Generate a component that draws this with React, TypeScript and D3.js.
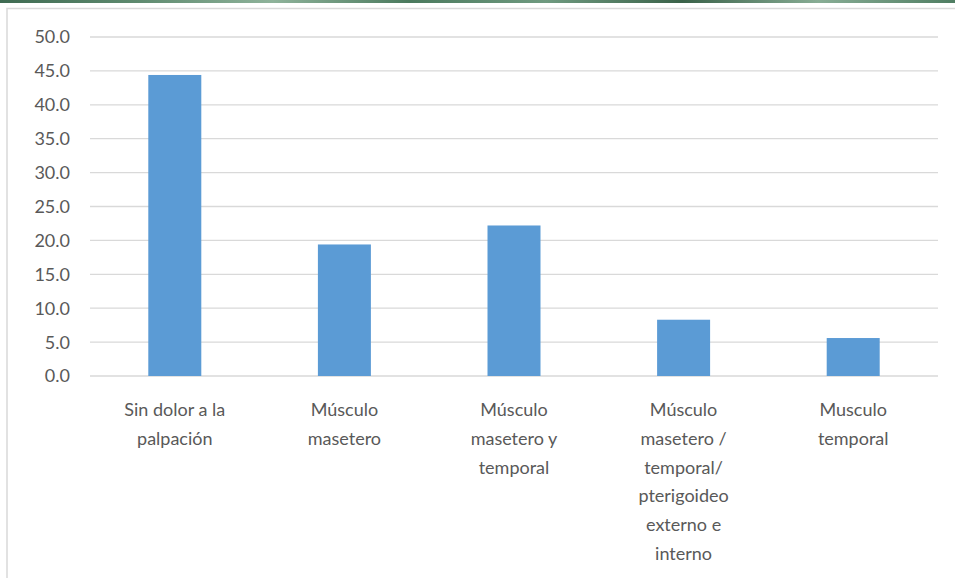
import { useEffect, useRef } from "react";
import * as d3 from "d3";

const categories = [
  ["Sin dolor a la", "palpación"],
  ["Músculo", "masetero"],
  ["Músculo", "masetero y", "temporal"],
  ["Músculo", "masetero /", "temporal/", "pterigoideo", "externo e", "interno"],
  ["Musculo", "temporal"],
];
const values = [44.4, 19.4, 22.2, 8.3, 5.6];
const yTicks = [0, 5, 10, 15, 20, 25, 30, 35, 40, 45, 50];
const stripColors = ["#3f6b52", "#5e8a6f", "#8fb39b", "#4b7a5e", "#6f9a80", "#3a6249", "#88ad95", "#4f7d62"];

const W = 955;
const H = 578;
const margin = { top: 37, right: 17, bottom: 202, left: 90 };
const FONT = "Lato, 'Open Sans', sans-serif";

export default function App() {
  const ref = useRef<HTMLDivElement | null>(null);

  useEffect(() => {
    if (!ref.current) return;
    d3.select(ref.current).selectAll("svg").remove();

    const svg = d3
      .select(ref.current)
      .append("svg")
      .attr("width", W)
      .attr("height", H)
      .style("display", "block");

    // green decorative strip along the top
    const grad = svg
      .append("defs")
      .append("linearGradient")
      .attr("id", "strip")
      .attr("x1", "0%")
      .attr("x2", "100%");
    stripColors.forEach((c, i) => {
      grad
        .append("stop")
        .attr("offset", `${(i / (stripColors.length - 1)) * 100}%`)
        .attr("stop-color", c);
    });
    svg.append("rect").attr("width", W).attr("height", H).attr("fill", "#fff");
    svg.append("rect").attr("width", W).attr("height", 3).attr("fill", "url(#strip)");

    // chart frame
    svg
      .append("path")
      .attr("d", `M7,${H} V8.5 H${W}`)
      .attr("fill", "none")
      .attr("stroke", "#d9d9d9")
      .attr("stroke-width", 1.5);

    const innerW = W - margin.left - margin.right;
    const innerH = H - margin.top - margin.bottom;
    const g = svg.append("g").attr("transform", `translate(${margin.left},${margin.top})`);

    const x = d3
      .scaleBand<number>()
      .domain(d3.range(categories.length))
      .range([0, innerW])
      .paddingInner(0.6875)
      .paddingOuter(0.34375);
    const y = d3.scaleLinear().domain([0, 50]).range([innerH, 0]);

    g.selectAll("line.grid")
      .data(yTicks)
      .join("line")
      .attr("class", "grid")
      .attr("x1", 0)
      .attr("x2", innerW)
      .attr("y1", (d) => y(d))
      .attr("y2", (d) => y(d))
      .attr("stroke", "#d9d9d9")
      .attr("stroke-width", 1.3);

    g.selectAll("text.ytick")
      .data(yTicks)
      .join("text")
      .attr("class", "ytick")
      .attr("x", -20)
      .attr("y", (d) => y(d))
      .attr("dy", "0.36em")
      .attr("text-anchor", "end")
      .attr("font-family", FONT)
      .attr("font-size", 18)
      .attr("fill", "#595959")
      .text((d) => d.toFixed(1));

    g.selectAll("rect.bar")
      .data(values)
      .join("rect")
      .attr("class", "bar")
      .attr("x", (_, i) => x(i)!)
      .attr("width", x.bandwidth())
      .attr("y", (d) => y(d))
      .attr("height", (d) => innerH - y(d))
      .attr("fill", "#5b9bd5");

    const labels = g
      .selectAll("text.xlab")
      .data(categories)
      .join("text")
      .attr("class", "xlab")
      .attr("text-anchor", "middle")
      .attr("font-family", FONT)
      .attr("font-size", 18)
      .attr("fill", "#595959");
    labels
      .selectAll("tspan")
      .data((d, i) => d.map((t) => ({ t, i })))
      .join("tspan")
      .attr("x", (d) => x(d.i)! + x.bandwidth() / 2)
      .attr("y", (_, j) => innerH + 40 + j * 28.8)
      .text((d) => d.t);
  }, []);

  return <div ref={ref} style={{ position: "absolute", left: 0, top: 0 }}></div>;
}
